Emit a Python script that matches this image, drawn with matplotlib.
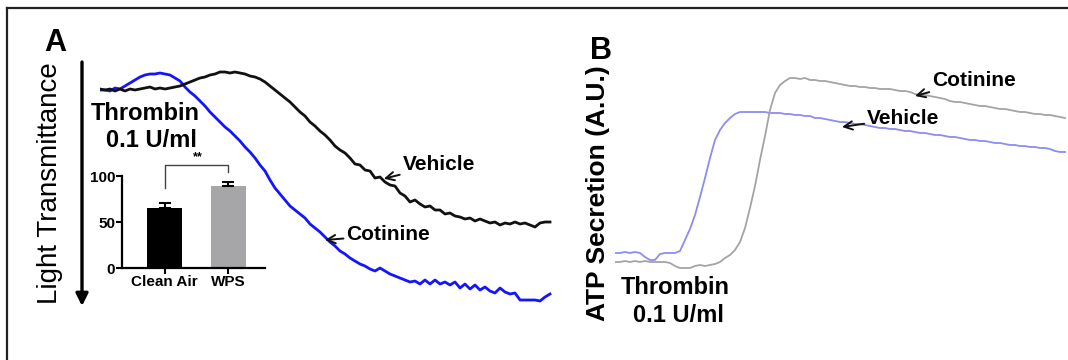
import matplotlib
matplotlib.use("Agg")
import matplotlib.pyplot as plt
from matplotlib.lines import Line2D

plt.rcParams["font.family"] = ["Liberation Sans", "DejaVu Sans"]

W, H = 1068, 360

# Panel A: light transmittance traces (time in s, transmittance in %)
TIME_A = list(range(0, 361, 4))
VEHICLE_A = [
    -0.4, 0, -0.4, 0.4, -0.4, 0.4, -0.4, 0, -0.4, -0.8,
    -1.2, -0.4, -0.8, -0.4, -0.8, -1.2, -1.6, -2.4, -3.2, -4.0,
    -4.8, -5.2, -6.0, -6.4, -7.2, -7.2, -6.8, -7.2, -6.8, -6.4,
    -5.6, -5.2, -4.4, -3.2, -1.6, 0, 1.6, 3.2, 4.8, 6.8,
    8.8, 10.4, 12.8, 14.4, 16.4, 18.0, 20, 22.4, 24, 25.2,
    27.2, 29.6, 30.0, 32, 32.4, 35.2, 34.8, 36.8, 38, 38.4,
    41.2, 42.4, 44.8, 44.0, 45.6, 46.8, 46.4, 48, 48.0, 49.6,
    49.2, 50.4, 50.8, 51.6, 51.2, 52.4, 51.6, 52.4, 53.2, 52.8,
    54, 53.2, 53.6, 52.8, 53.6, 53.2, 54, 54.8, 53.2, 52.8,
    52.8,
]
COTININE_A = [
    0, 0, 0.4, -0.8, -0.4, -1.6, -2.8, -4.0, -5.2, -6.0,
    -6.4, -6.4, -6.8, -6.4, -6.0, -4.8, -3.6, -1.2, 0.8, 2.4,
    4.4, 6.4, 8.8, 10.8, 12.8, 14.8, 16.4, 18.4, 20.4, 22.8,
    24.8, 27.2, 30, 32.4, 36, 39.2, 41.6, 44, 46.4, 48,
    49.6, 51.2, 53.6, 55.2, 56.8, 58.8, 60.8, 62.4, 64.4, 65.6,
    67.2, 68.4, 69.6, 70.4, 71.6, 72.4, 71.2, 72.4, 73.6, 74.4,
    75.2, 76, 76.8, 76.4, 77.6, 76, 77.6, 76, 77.6, 76.8,
    78, 76.8, 79.2, 77.6, 79.6, 78, 80, 78.8, 80.4, 81.2,
    79.2, 80.8, 81.6, 81.2, 84, 84, 84, 84, 84.4, 82.8,
    81.6,
]

# Inset: aggregation bars
GROUPS = ["Clean Air", "WPS"]
BAR_MEANS = [65, 89]
BAR_SEM = [6, 4]
BAR_COLORS = ["#000000", "#a6a6a8"]

# Panel B: ATP secretion traces (time in s, A.U.)
TIME_B = list(range(0, 361, 4))
VEHICLE_B = [
    6, 6, 6.5, 6, 6.5, 6, 4, 2.5, 2.5, 5.5,
    6, 6, 6, 7, 12.5, 18, 25, 34, 43.5, 53.5,
    62.5, 67.5, 71, 73.5, 75.5, 76.5, 76.5, 76.5, 76.5, 76.5,
    76.5, 76, 76, 76, 75.5, 75.5, 75, 75, 74.5, 74.5,
    73.5, 73.5, 73, 72.5, 72, 71.5, 71.5, 71, 70.5, 70.5,
    70, 69.5, 69, 68.5, 68.5, 68, 68, 67.5, 67, 67,
    66.5, 66, 66, 65.5, 65, 65, 64.5, 64, 64, 63.5,
    63, 62.5, 62.5, 62, 62, 61.5, 61, 61, 60.5, 60,
    60, 59.5, 59.5, 59, 59, 58.5, 58.5, 58, 57, 56.5,
    56.5,
]
COTININE_B = [
    1.5, 1.5, 2, 1.5, 2, 1.5, 2, 1.5, 1.5, 1.5,
    1.5, 1, -0.5, -1.5, -1.5, -1.5, -0.5, 0, -0.5, 0,
    0.5, 1.5, 3.5, 5, 7.5, 11.5, 18.5, 28.5, 39.5, 52.5,
    64.5, 77.5, 86, 90, 92, 93.5, 93.5, 93, 93.5, 92.5,
    92.5, 92, 92, 91.5, 91, 90.5, 90, 89.5, 89.5, 89,
    89, 88.5, 88.5, 88, 88, 88, 87.5, 87, 87, 86.5,
    85.5, 85, 85, 84.5, 84, 83.5, 83, 82, 81.5, 81.5,
    81, 80.5, 80, 79.5, 79.5, 79, 78.5, 78, 78, 77.5,
    77, 76.5, 76.5, 76, 75.5, 75.5, 75, 75, 74.5, 74,
    73.5,
]


def fx(px):
    return px / W


def fy(py):
    return 1 - py / H


def box(x0, y0, x1, y1):
    return [fx(x0), fy(y1), (x1 - x0) / W, (y1 - y0) / H]


fig = plt.figure(figsize=(W / 100, H / 100), dpi=100)

# frame lines (left and top only)
fig.add_artist(Line2D([fx(7), fx(7)], [fy(8), 0], color="#222222", lw=1.6))
fig.add_artist(Line2D([fx(7), 1], [fy(8), fy(8)], color="#222222", lw=1.6))

# ---- Panel A ----
axA = fig.add_axes(box(100, 70, 555, 305))
axA.plot(TIME_A, COTININE_A, color="#1414ff", lw=2.0)
axA.plot(TIME_A, VEHICLE_A, color="#111111", lw=2.0)
axA.set_xlim(0, 364)
axA.set_ylim(86, -8)
axA.axis("off")

axA.annotate("Vehicle", xy=(227, 35.5), xytext=(242, 30), fontsize=15,
             fontweight="bold", va="center", ha="left",
             arrowprops=dict(arrowstyle="->", lw=1.4, color="#111111",
                             shrinkA=0, shrinkB=0))
axA.annotate("Cotinine", xy=(180, 60), xytext=(197, 58), fontsize=15,
             fontweight="bold", va="center", ha="left",
             arrowprops=dict(arrowstyle="->", lw=1.4, color="#111111",
                             shrinkA=0, shrinkB=0))

fig.text(fx(55), fy(43), "A", fontsize=22, fontweight="bold",
         ha="center", va="center")
fig.text(fx(50), fy(183), "Light Transmittance", fontsize=20,
         rotation=90, ha="center", va="center")
axA.annotate("", xy=(fx(82), fy(306)), xycoords="figure fraction",
             xytext=(fx(82), fy(62)), textcoords="figure fraction",
             arrowprops=dict(arrowstyle="-|>", lw=2.4, color="black",
                             mutation_scale=18, shrinkA=0, shrinkB=0))
fig.text(fx(145), fy(113), "Thrombin", fontsize=17, fontweight="bold",
         ha="center", va="center")
fig.text(fx(151), fy(141), "0.1 U/ml", fontsize=17, fontweight="bold",
         ha="center", va="center")

# ---- Inset bar chart ----
axI = fig.add_axes(box(122, 176, 265, 268))
pos = [0, 1]
axI.bar(pos, BAR_MEANS, width=0.55, color=BAR_COLORS, zorder=2)
axI.errorbar(pos, BAR_MEANS, yerr=[[0, 0], BAR_SEM], fmt="none",
             ecolor="black", elinewidth=1.5, capsize=4, capthick=1.5, zorder=3)
axI.set_xlim(-0.67, 1.58)
axI.set_ylim(0, 100)
axI.set_yticks([0, 50, 100])
axI.set_xticks(pos)
axI.set_xticklabels(GROUPS)
for lab in axI.get_xticklabels() + axI.get_yticklabels():
    lab.set_fontweight("bold")
    lab.set_fontsize(11)
axI.tick_params(axis="both", length=4, width=1.5, pad=1)
for side in ("top", "right"):
    axI.spines[side].set_visible(False)
for side in ("left", "bottom"):
    axI.spines[side].set_linewidth(1.6)
axI.plot([0, 0, 1, 1], [87, 112, 112, 104], color="#444444", lw=1.0,
         clip_on=False)
axI.text(0.53, 114, "**", ha="center", va="bottom", fontsize=9,
         fontweight="bold")

# ---- Panel B ----
axB = fig.add_axes(box(615, 60, 1068, 280))
axB.plot(TIME_B, VEHICLE_B, color="#8c8cf2", lw=1.3)
axB.plot(TIME_B, COTININE_B, color="#a4a4a4", lw=1.3)
axB.set_xlim(0, 362.4)
axB.set_ylim(-7.5, 102.5)
axB.axis("off")

axB.annotate("Cotinine", xy=(240, 84.5), xytext=(253.6, 92.5), fontsize=15,
             fontweight="bold", va="center", ha="left",
             arrowprops=dict(arrowstyle="->", lw=1.4, color="#111111",
                             shrinkA=0, shrinkB=0))
axB.annotate("Vehicle", xy=(181.6, 69), xytext=(201.6, 73.5), fontsize=15,
             fontweight="bold", va="center", ha="left",
             arrowprops=dict(arrowstyle="->", lw=1.4, color="#111111",
                             shrinkA=0, shrinkB=0))

fig.text(fx(601), fy(51), "B", fontsize=22, fontweight="bold",
         ha="center", va="center")
fig.text(fx(598), fy(193), "ATP Secretion (A.U.)", fontsize=19,
         fontweight="bold", rotation=90, ha="center", va="center")
fig.text(fx(675), fy(287), "Thrombin", fontsize=17, fontweight="bold",
         ha="center", va="center")
fig.text(fx(678), fy(315), "0.1 U/ml", fontsize=17, fontweight="bold",
         ha="center", va="center")

fig.savefig("out.png", dpi=100)
